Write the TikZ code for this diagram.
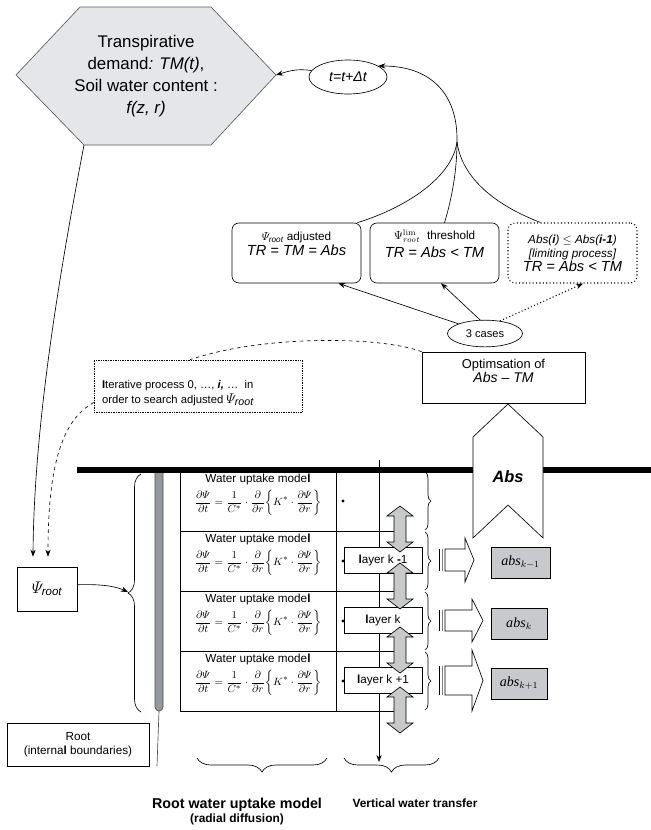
\documentclass[tikz,border=0pt]{standalone}
\usepackage{amsmath}
\usepackage[no-math]{fontspec}
\setmainfont{Liberation Sans}
\newfontfamily\timesfont{Liberation Serif}
\usetikzlibrary{arrows.meta,positioning,shapes.geometric,decorations.pathreplacing,calc}

\definecolor{hexfill}{HTML}{E5E6EA}
\definecolor{absfill}{HTML}{C7C9CD}
\definecolor{rootfill}{HTML}{929A9E}

\begin{document}
\begin{tikzpicture}[
  x=0.03cm, y=-0.03cm, line width=0.55pt,
  >={Stealth[length=6pt,width=4.5pt]},
  oval/.style={draw, ellipse, inner sep=0pt},
  casebox/.style={draw, rounded corners=6pt, minimum width=3.87cm, minimum height=1.8cm},
  plainbox/.style={draw, align=center, inner sep=0pt},
  rowbox/.style={draw, minimum width=4.68cm, minimum height=1.8cm},
  layerbox/.style={draw, fill=white, minimum width=2.34cm, minimum height=0.78cm, inner sep=0pt, font=\fontsize{10}{12}\selectfont},
  absbox/.style={draw, fill=absfill, minimum height=0.93cm, inner sep=0pt, font=\fontsize{12}{14}\selectfont},
  curly/.style={decorate, decoration={brace, amplitude=#1}},
  dblarr/.pic={\draw[fill=absfill] (0,-23) -- (13,-13) -- (6,-13) -- (6,13) -- (13,13) -- (0,23) -- (-13,13) -- (-6,13) -- (-6,-13) -- (-13,-13) -- cycle;},
]
\useasboundingbox (0,0) rectangle (651,830);

% demand and time step
\draw[draw=black!65, fill=hexfill] (80,7) -- (211,7) -- (276,75) -- (211,145) -- (84,145) -- (16,75) -- cycle;
\node[align=center, inner sep=0pt, font=\fontsize{14.4}{18.8}\selectfont] (demand) at (146,76) {Transpirative\\demand\textit{: TM(t)},\\Soil water content :\\\textit{f(z, r)}};
\coordinate (demandE) at (276,75);
\coordinate (demandSW) at (84,145);
\node[oval, minimum width=2.34cm, minimum height=1.02cm, font=\fontsize{12}{14}\selectfont\itshape] (tick) at (348,77) {t=t+Δt};

% three cases
\node[casebox] (adj) at (296.5,253) {};
\node[below=0.27cm of adj.north, align=center, inner sep=0pt] (adjtxt) {{\fontsize{10}{12}\selectfont$\varPsi_{\textit{root}}$ adjusted}\\[1pt]{\fontsize{12.5}{15}\selectfont\itshape TR = TM = Abs}};
\node[casebox] (lim) at (434.5,253) {};
\node[below=0.2cm of lim.north, align=center, inner sep=0pt] (limtxt) {{\fontsize{10}{12}\selectfont$\Psi_{\mathit{root}}^{\mathrm{lim}}$\ \ threshold}\\[3pt]{\fontsize{12.5}{15}\selectfont\itshape TR = Abs < TM}};
\node[casebox, dotted, line width=0.9pt, align=center] (limit) at (572.5,253) {{\fontsize{10}{12}\selectfont\itshape Abs(\textbf{i}) $\leq$ Abs(\textbf{i-1})}\\{\fontsize{10}{12}\selectfont\itshape [limiting process]}\\{\fontsize{12.5}{15}\selectfont\itshape TR = Abs < TM}};

\node[oval, minimum width=2.25cm, minimum height=0.8cm, font=\fontsize{9.5}{11}\selectfont] (cases) at (485,333.5) {3 cases};
\node[plainbox, minimum width=4.89cm, minimum height=1.53cm] (opt) at (503.5,377.5) {};
\node[below=0.2cm of opt.north, align=center, inner sep=0pt] (opttxt) {{\fontsize{11}{13}\selectfont Optimsation of}\\{\fontsize{12}{14.5}\selectfont\itshape Abs -- TM}};

\node[plainbox, densely dotted, line width=0.45pt, minimum width=6.24cm, minimum height=1.56cm] (iter) at (198,386) {};
\node[below right=0.62cm and 0.24cm of iter.north west, align=left, inner sep=0pt, font=\fontsize{9.6}{12.8}\selectfont] (itertxt) {\textbf{I}terative process 0, …, \textbf{\textit{i,}} …~ in\\order to search adjusted {\fontsize{13}{13}\selectfont$\varPsi_{\textit{root}}$}};

\node[plainbox, minimum width=1.8cm, minimum height=1.32cm, font=\fontsize{14}{16}\selectfont] (psi) at (47,589) {$\varPsi_{\textit{root}}$};
\node[plainbox, minimum width=4.26cm, minimum height=1.29cm, font=\fontsize{10}{12.5}\selectfont] (root) at (78,744.5) {Root\\(interna\textbf{l} boundaries)};

% soil surface and vertical transfer
\draw[line width=0.17cm] (77,470) -- (651,470);
\coordinate (vtop) at (379,460);
\coordinate (vbot) at (379,762);
\draw[->] (vtop) -- (vbot);
\draw[fill=white] (508,404) -- (543,437) -- (543,538) -- (508,505) -- (473,538) -- (473,437) -- cycle;
\node[inner sep=0pt, font=\fontsize{14}{16}\selectfont\bfseries\itshape] (abs) at (508,477) {Abs};

% root
\draw[draw=black!70, fill=rootfill] (155,473) -- (155,707) arc[start angle=180, end angle=0, radius=4] -- (163,473);
\draw[black!70] (159,711) -- (157,766);

% uptake model rows
\foreach \r/\y in {1/501,2/561,3/621,4/681}{
  \node[rowbox] (row\r) at (258,\y) {};
  \node[below=0.08cm of row\r.north, align=center, inner sep=0pt, font=\fontsize{10}{12}\selectfont] (eq\r) {Water uptake mode\textbf{l}\\[4pt]{\fontsize{9.5}{11}\selectfont$\displaystyle\frac{\partial\varPsi}{\partial t}=\frac{1}{C^*}\cdot\frac{\partial}{\partial r}\biggl\{K^*\cdot\frac{\partial\varPsi}{\partial r}\biggr\}$}};
  \fill (343,\y) circle[radius=1.4pt];
  \draw (row\r.south east) -- ++(58,0);
}

\node[layerbox] (lay1) at (383,560) {\textbf{l}ayer k \textbf{-}1};
\node[layerbox] (lay2) at (383,620.5) {\textbf{l}ayer k};
\node[layerbox] (lay3) at (383,680.5) {\textbf{l}ayer k +1};

\foreach \y in {529,586,650,710} \pic at (400,\y) {dblarr};
\foreach \a/\b in {472/530,532/590,592/650,652/710} \draw[curly=0.18cm] (425,\a) -- (425,\b);

% outflow per layer
\foreach \yc/\bh/\hh/\hx/\tx in {560/11/22/465/474, 620.5/10.5/21.5/472/483, 680.5/14.5/30.5/472/483}{
  \draw[fill=white] (445,{\yc-\bh}) -- (\hx,{\yc-\bh}) -- (\hx,{\yc-\hh}) -- (\tx,\yc) -- (\hx,{\yc+\hh}) -- (\hx,{\yc+\bh}) -- (445,{\yc+\bh}) -- cycle;
  \draw[line width=1.4pt] (439.5,{\yc-\bh}) -- (439.5,{\yc+\bh});
  \draw[gray, line width=0.8pt] (442.3,{\yc-\bh}) -- (442.3,{\yc+\bh});
}
\node[absbox, minimum width=1.77cm] (absA) at (520.5,562.5) {{\timesfont\itshape abs}$_{k-1}$};
\node[absbox, minimum width=1.68cm] (absB) at (519,623.5) {{\timesfont\itshape abs}$_{k}$};
\node[absbox, minimum width=1.68cm] (absC) at (519,683.5) {{\timesfont\itshape abs}$_{k+1}$};

% braces and labels
\draw[curly=0.39cm] (141,712) -- (141,474);
\coordinate (btip) at (128,592);
\draw[curly=0.42cm] (327,758) -- (197,758);
\draw[curly=0.42cm] (439,758) -- (344,758);
\node[inner sep=0pt, font=\fontsize{12.2}{14}\selectfont\bfseries] (rwum) at (237,805) {Root water uptake mode\textbf{l}};
\node[below=0.05cm of rwum, inner sep=0pt, font=\fontsize{10.2}{12}\selectfont\bfseries] (radial) {(radia\textbf{l} diffusion)};
\node[inner sep=0pt, font=\fontsize{10.2}{12}\selectfont\bfseries] (vwt) at (415,803) {Vertica\textbf{l} water transfer};

% connectors
\draw[->] (tick.170) .. controls (296,68) and (286,72) .. (demandE);
\coordinate (junc) at (457,142);
\draw[->] (junc) .. controls (458,95) and (432,66) .. (tick.20);
\draw ($(adj.north east)+(-4,0)$) .. controls (405,208) and (452,178) .. (junc);
\draw ($(lim.north)+(10,0)$) .. controls (452,198) and (457,170) .. (junc);
\draw ($(limit.north west)+(33,0)$) .. controls (495,205) and (462,178) .. (junc);
\draw[->] (cases.160) -- ($(adj.south east)+(-23,0)$);
\draw[->] (cases.110) -- ($(lim.south)+(6.5,0)$);
\draw[->, dotted, line width=0.9pt] (cases.40) -- ($(limit.south)+(10.5,0)$);
\draw[dashed] (opt.north west) .. controls (380,336) and (262,335) .. ($(iter.north)+(-8,0)$);
\draw[->, dashed] (iter.189) .. controls (62,420) and (48,465) .. ($(psi.north)+(1,-10)$);
\draw[->] (demandSW) .. controls (62,260) and (34,420) .. ($(psi.north)+(-14,-10)$);
\draw[->] (psi.8) .. controls (100,584) and (115,586) .. (btip);
\end{tikzpicture}
\end{document}
